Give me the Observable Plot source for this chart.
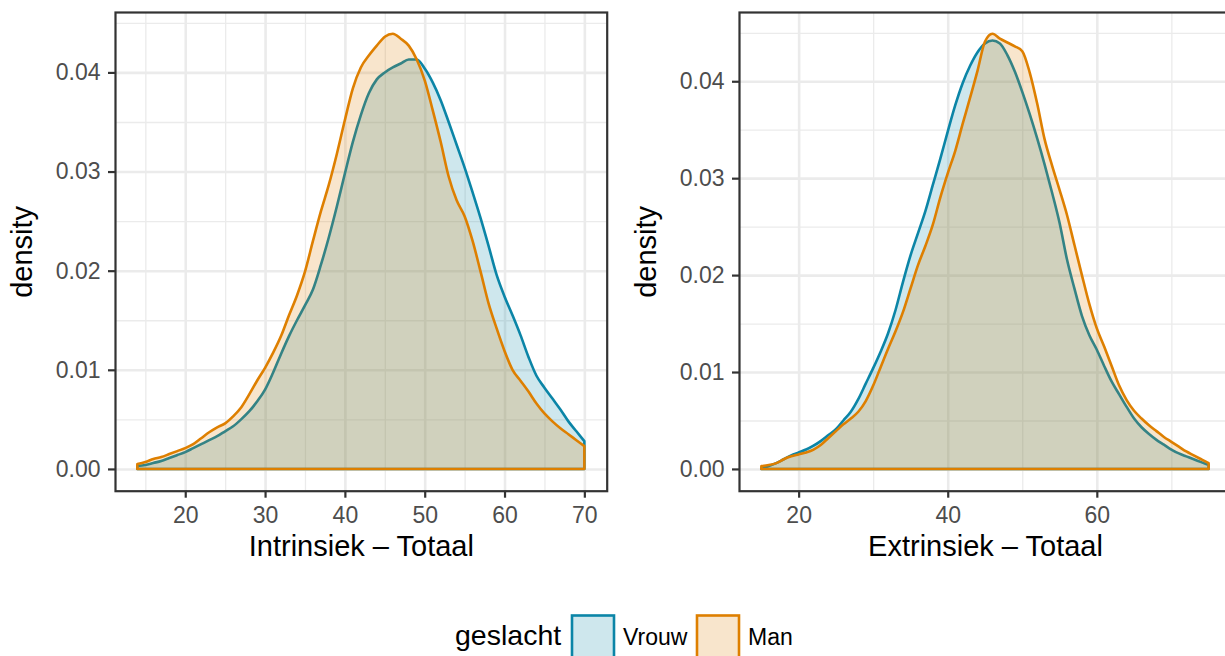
<!DOCTYPE html>
<html><head><meta charset="utf-8">
<script src="https://cdn.jsdelivr.net/npm/d3@7"></script>
<script src="https://cdn.jsdelivr.net/npm/@observablehq/plot@0.6"></script>
<style>
html,body{margin:0;padding:0;background:#fff;overflow:hidden;}
#fig{position:relative;width:1225px;height:656px;overflow:hidden;font-family:"Liberation Sans",Arial,sans-serif;background:#fff;}
#left{position:absolute;left:0;top:0;}
#right{position:absolute;left:620px;top:0;width:611px;}
#legend{position:absolute;left:0;top:580px;}
svg{max-width:none !important;}
</style></head><body><div id="fig"><div id="left"></div><div id="right"></div><div id="legend"></div></div>
<script>
// ---- data ----
const groups = ["Vrouw", "Man"];
const groupColors = ["#0B85A7", "#DE7F00"];
const legendTitle = "geslacht";
const yTitle = "density";

const intrTitle = "Intrinsiek \u2013 Totaal";
const intrX = [14,15,16,17,18,19,20,21,22,23,24,25,26,27,28,29,30,31,32,33,34,35,36,37,38,39,40,41,42,43,44,45,46,47,48,49,50,51,52,53,54,55,56,57,58,59,60,61,62,63,64,65,66,67,68,69,70];
const intrVrouw = [0.0003,0.0004,0.0006,0.0008,0.0011,0.0014,0.0017,0.0021,0.0025,0.0029,0.0033,0.0038,0.0043,0.0050,0.0058,0.0068,0.0080,0.0097,0.0116,0.0134,0.0150,0.0165,0.0181,0.0206,0.0234,0.0265,0.0298,0.0330,0.0357,0.0379,0.0393,0.0400,0.0405,0.0409,0.0413,0.0413,0.0404,0.0390,0.0372,0.0350,0.0327,0.0304,0.0279,0.0253,0.0225,0.0196,0.0174,0.0155,0.0135,0.0113,0.0094,0.0082,0.0071,0.0060,0.0048,0.0038,0.0028];
const intrMan = [0.0005,0.0007,0.0010,0.0012,0.0015,0.0018,0.0021,0.0025,0.0031,0.0037,0.0042,0.0046,0.0053,0.0062,0.0075,0.0089,0.0102,0.0117,0.0134,0.0155,0.0175,0.0199,0.0230,0.0260,0.0287,0.0318,0.0352,0.0384,0.0405,0.0417,0.0427,0.0436,0.0439,0.0434,0.0427,0.0413,0.0392,0.0362,0.0330,0.0295,0.0271,0.0255,0.0230,0.0199,0.0167,0.0142,0.0119,0.0100,0.0089,0.0078,0.0066,0.0056,0.0048,0.0041,0.0035,0.0029,0.0023];
const intrXTicks = [20,30,40,50,60,70];
const intrXMinor = [15,25,35,45,55,65];

const extrTitle = "Extrinsiek \u2013 Totaal";
const extrX = [15,16,17,18,19,20,21,22,23,24,25,26,27,28,29,30,31,32,33,34,35,36,37,38,39,40,41,42,43,44,45,46,47,48,49,50,51,52,53,54,55,56,57,58,59,60,61,62,63,64,65,66,67,68,69,70,71,72,73,74,75];
const extrVrouw = [0.0001,0.0003,0.0006,0.0010,0.0014,0.0017,0.0020,0.0024,0.0029,0.0035,0.0041,0.0050,0.0059,0.0072,0.0088,0.0104,0.0121,0.0140,0.0164,0.0193,0.0220,0.0243,0.0266,0.0293,0.0320,0.0348,0.0375,0.0398,0.0416,0.0430,0.0439,0.0442,0.0439,0.0427,0.0410,0.0389,0.0366,0.0341,0.0314,0.0285,0.0254,0.0216,0.0186,0.0158,0.0138,0.0123,0.0106,0.0090,0.0077,0.0064,0.0052,0.0043,0.0036,0.0030,0.0025,0.0020,0.0016,0.0013,0.0010,0.0007,0.0004];
const extrMan = [0.0003,0.0004,0.0006,0.0010,0.0013,0.0015,0.0017,0.0020,0.0025,0.0032,0.0039,0.0046,0.0052,0.0059,0.0070,0.0086,0.0105,0.0124,0.0142,0.0162,0.0186,0.0210,0.0230,0.0252,0.0280,0.0305,0.0328,0.0356,0.0383,0.0411,0.0441,0.0449,0.0444,0.0440,0.0436,0.0431,0.0409,0.0377,0.0340,0.0313,0.0288,0.0262,0.0231,0.0200,0.0170,0.0145,0.0126,0.0106,0.0086,0.0071,0.0060,0.0052,0.0045,0.0039,0.0033,0.0028,0.0023,0.0018,0.0014,0.0010,0.0006];
const extrXTicks = [20,40,60];
const extrXMinor = [30,50,70];

const yTicks = [0,0.01,0.02,0.03,0.04];
const yMinor = [0.005,0.015,0.025,0.035,0.045];

// ---- drawing ----
const FONT = '"Liberation Sans", Arial, sans-serif';
const toRows = (xs, ys) => xs.map((x, i) => ({x, y: ys[i]}));

function panel({xs, series, xTicks, xMinor, title, width, marginLeft, marginRight}) {
  const xmin = d3.min(xs), xmax = d3.max(xs);
  const xpad = 0.05 * (xmax - xmin);
  const ymax = d3.max(series.flat());
  const ypad = 0.05 * ymax;
  const grid = "#EBEBEB";
  return Plot.plot({
    width, height: 570,
    marginLeft, marginRight, marginTop: 12, marginBottom: 79.3,
    style: {fontFamily: FONT, fontSize: "23px", background: "#fff", overflow: "visible", maxWidth: "none"},
    x: {domain: [xmin - xpad, xmax + xpad]},
    y: {domain: [-ypad, ymax + ypad]},
    marks: [
      Plot.gridX(xMinor, {stroke: grid, strokeOpacity: 1, strokeWidth: 1.3}),
      Plot.gridY(yMinor, {stroke: grid, strokeOpacity: 1, strokeWidth: 1.3}),
      Plot.gridX(xTicks, {stroke: grid, strokeOpacity: 1, strokeWidth: 2.6}),
      Plot.gridY(yTicks, {stroke: grid, strokeOpacity: 1, strokeWidth: 2.6}),
      ...series.map((ys, i) => Plot.areaY(toRows(xs, ys), {
        x: "x", y: "y", curve: "monotone-x",
        fill: groupColors[i], fillOpacity: 0.2,
        stroke: groupColors[i], strokeWidth: 2.6, strokeLinejoin: "round"
      })),
      Plot.frame({stroke: "#333333", strokeWidth: 2.2}),
      Plot.axisX(xTicks, {tickSize: 7, tickPadding: 8, stroke: "#333333", strokeWidth: 2.2,
        fill: "#4D4D4D", fontSize: 23, label: null, tickFormat: d => String(d)}),
      Plot.axisY(yTicks, {tickSize: 7, tickPadding: 8, stroke: "#333333", strokeWidth: 2.2,
        fill: "#4D4D4D", fontSize: 23, label: null, tickFormat: d3.format(".2f")}),
      Plot.text([title], {frameAnchor: "bottom", lineAnchor: "middle", textAnchor: "middle", dy: 56, text: d => d, fontSize: 29, fill: "#000"}),
      Plot.text([yTitle], {frameAnchor: "left", textAnchor: "middle", lineAnchor: "middle", dx: -93, rotate: -90, text: d => d, fontSize: 29, fill: "#000"})
    ]
  });
}

document.getElementById("left").append(panel({
  xs: intrX, series: [intrVrouw, intrMan], xTicks: intrXTicks, xMinor: intrXMinor,
  title: intrTitle, width: 620, marginLeft: 115, marginRight: 13.3
}));
document.getElementById("right").append(panel({
  xs: extrX, series: [extrVrouw, extrMan], xTicks: extrXTicks, xMinor: extrXMinor,
  title: extrTitle, width: 611, marginLeft: 119, marginRight: 0
}));

// ---- legend ----
const top0 = 580;
const lg = d3.select("#legend").append("svg")
  .attr("width", 1225).attr("height", 76)
  .style("font-family", FONT);
lg.append("text").attr("x", 455).attr("y", 645 - top0).attr("font-size", 28.5).attr("fill", "#000").text(legendTitle);
const keyX = [572, 697];
const labX = [623, 748];
groups.forEach((g, i) => {
  lg.append("rect").attr("x", keyX[i]).attr("y", 615.5 - top0).attr("width", 42).attr("height", 44)
    .attr("fill", groupColors[i]).attr("fill-opacity", 0.2)
    .attr("stroke", groupColors[i]).attr("stroke-width", 2.6);
  lg.append("text").attr("x", labX[i]).attr("y", 645 - top0).attr("font-size", 23).attr("fill", "#000").text(g);
});
</script>
</body></html>
